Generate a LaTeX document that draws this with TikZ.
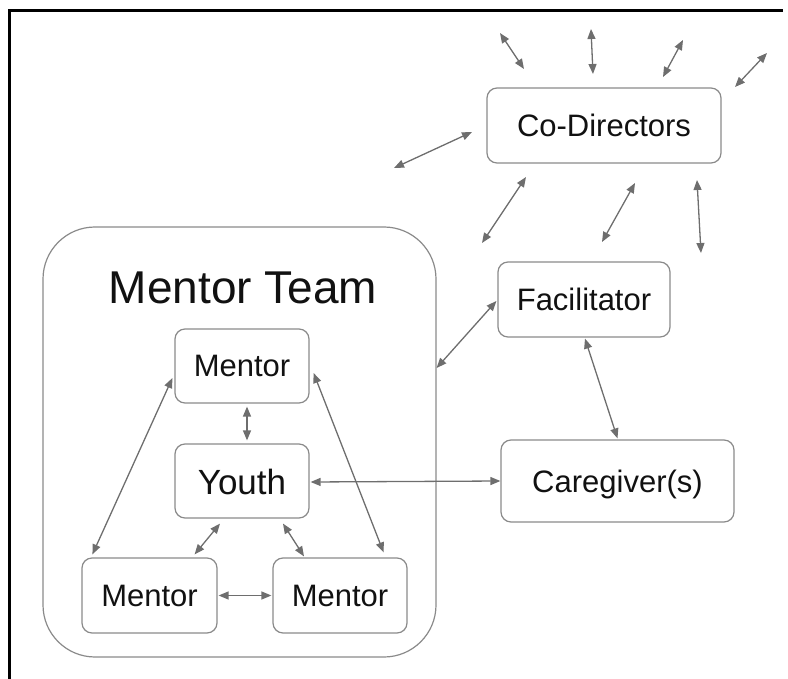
\documentclass[tikz,border=0pt]{standalone}
\usepackage{fontspec}
\setmainfont{Liberation Sans}
\usetikzlibrary{arrows.meta}
\definecolor{edgegray}{HTML}{8A8A8A}
\definecolor{arrowgray}{HTML}{6E6E6E}
\definecolor{ink}{HTML}{111111}
\tikzset{
  box/.style={draw=edgegray, line width=1.2pt, rounded corners=10pt, inner sep=0pt,
    text=ink, font=\fontsize{31}{36}\selectfont, text height=22pt, text depth=0pt},
  link/.style={draw=arrowgray, line width=1.3pt,
    {Triangle[length=10pt,width=8pt]}-{Triangle[length=10pt,width=8pt]}},
}
\begin{document}
\begin{tikzpicture}[x=1pt,y=-1pt]
\useasboundingbox (0,0) rectangle (788,679);
% page frame
\draw[line width=2.7pt] (9.7,679) -- (9.7,10.7) -- (783,10.7);

% mentor team container
\node[draw=edgegray, line width=1.2pt, rounded corners=52pt, minimum width=393pt, minimum height=430pt]
  (team) at (239.5,442) {};
\node[text=ink, font=\fontsize{46}{52}\selectfont, inner sep=0pt, text height=33pt, text depth=0pt]
  (teamlabel) at (243,287) {Mentor Team};

% boxes
\node[box, minimum width=134pt, minimum height=74pt] (tm) at (242,366) {Mentor};
\node[box, minimum width=134pt, minimum height=74pt, font=\fontsize{35}{40}\selectfont, text height=26pt]
  (youth) at (242,481) {Youth};
\node[box, minimum width=135pt, minimum height=75pt] (bl) at (149.5,595.5) {Mentor};
\node[box, minimum width=134pt, minimum height=75pt] (br) at (340,595.5) {Mentor};
\node[box, minimum width=234pt, minimum height=75pt] (cd) at (604,125.5) {Co-Directors};
\node[box, minimum width=172pt, minimum height=75pt] (fac) at (584,299.5) {Facilitator};
\node[box, minimum width=233pt, minimum height=82pt] (care) at (617.5,481) {Caregiver(s)};

% links inside the mentor team
\draw[link] ([xshift=5pt,yshift=-3pt]tm.south) -- ([xshift=5pt,yshift=3pt]youth.north);
\draw[link] ([xshift=-2pt,yshift=-12pt]tm.west) -- ([xshift=11pt,yshift=3pt]bl.north west);
\draw[link] ([xshift=4pt,yshift=-7pt]tm.east) -- ([xshift=-24pt,yshift=5pt]br.north east);
\draw[link] ([xshift=-22pt,yshift=-5pt]youth.south) -- ([xshift=-23pt,yshift=3pt]bl.north east);
\draw[link] ([xshift=41pt,yshift=-5pt]youth.south) -- ([xshift=-36pt,yshift=1pt]br.north);
\draw[link] ([xshift=1pt]bl.east) -- ([xshift=-1pt]br.west);

% links to the outside
\draw[link] ([xshift=1pt,yshift=-1pt]youth.east) -- (care.west);
\draw[link] ([xshift=-1pt,yshift=-1.5pt]fac.west) -- ([yshift=74pt]team.east);
\draw[link] ([xshift=1pt,yshift=-1pt]fac.south) -- ([yshift=1pt]care.north);

% open-ended links around the co-directors
\coordinate (o1) at (500,33);
\coordinate (o2) at (591,29);
\coordinate (o3) at (683,40);
\coordinate (o4) at (767,53);
\coordinate (o5) at (394,168);
\coordinate (o6) at (482,243);
\coordinate (o7) at (602,242);
\coordinate (o8) at (701,253);
\draw[link] ([xshift=-80pt,yshift=56.5pt]cd.center) -- (o1);
\draw[link] ([xshift=-11pt,yshift=51.5pt]cd.center) -- (o2);
\draw[link] ([xshift=59pt,yshift=48.5pt]cd.center) -- (o3);
\draw[link] ([xshift=131pt,yshift=38.5pt]cd.center) -- (o4);
\draw[link] ([xshift=-132pt,yshift=-6.5pt]cd.center) -- (o5);
\draw[link] ([xshift=-78pt,yshift=-51.5pt]cd.center) -- (o6);
\draw[link] ([xshift=31pt,yshift=-57.5pt]cd.center) -- (o7);
\draw[link] ([xshift=93pt,yshift=-54.5pt]cd.center) -- (o8);
\end{tikzpicture}
\end{document}
